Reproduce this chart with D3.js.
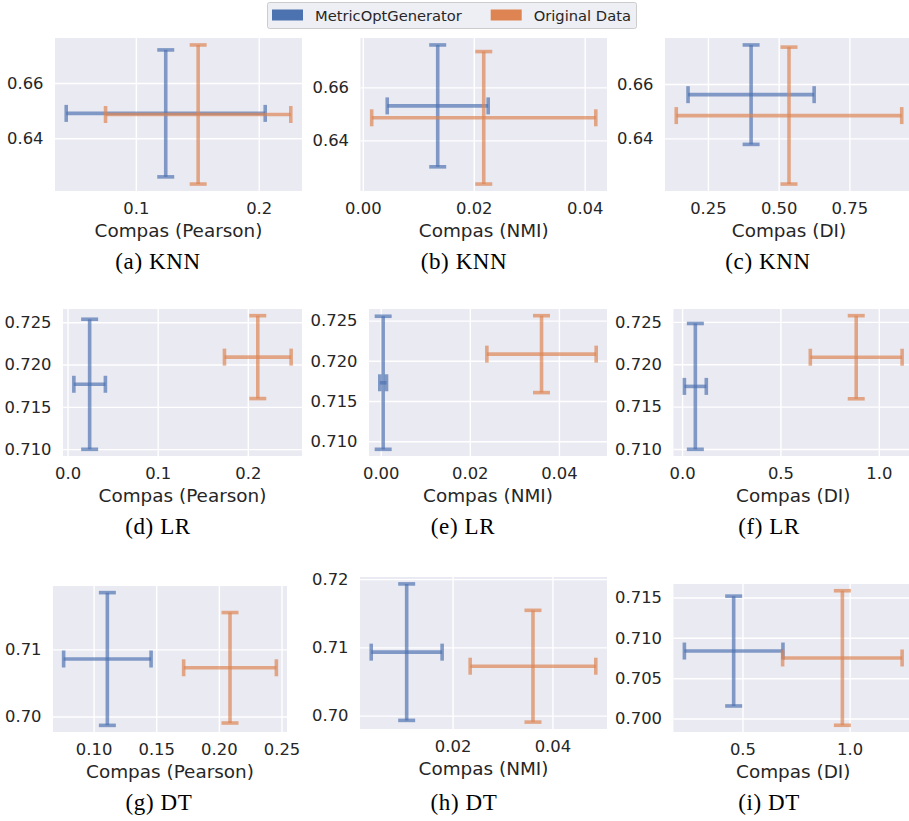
<!DOCTYPE html>
<html>
<head>
<meta charset="utf-8">
<script src="https://cdn.jsdelivr.net/npm/d3@7"></script>
<style>
  body { margin: 0; background: #fff; }
  svg { display: block; font-family: "DejaVu Sans", sans-serif; }
  .tick text { fill: #262626; }
  .caption { font-family: "Liberation Serif", serif; fill: #000; }
</style>
</head>
<body>
<div id="chart"></div>
<script>
const WIDTH = 909;
const HEIGHT = 821;
const AXIS_BG = '#eaeaf2';
const COLORS = ['#4c72b0', '#dd8452'];
const TICK_FONT = 16.4;
const LABEL_FONT = 18.4;
const CAP = 8.5;

const seriesNames = ['MetricOptGenerator', 'Original Data'];
const captions = ['(a) KNN', '(b) KNN', '(c) KNN', '(d) LR', '(e) LR', '(f) LR', '(g) DT', '(h) DT', '(i) DT'];
const xLabels = [
  'Compas (Pearson)', 'Compas (NMI)', 'Compas (DI)',
  'Compas (Pearson)', 'Compas (NMI)', 'Compas (DI)',
  'Compas (Pearson)', 'Compas (NMI)', 'Compas (DI)',
];

// MetricOptGenerator: mean / std of fairness metric (x) and accuracy (y)
const genX    = [0.1243, 0.0135, 0.4026, 0.0245, 0.00055, 0.0675, 0.1110, 0.0108, 0.4589];
const genXErr = [0.0810, 0.0091, 0.2229, 0.0175, 0.00075, 0.0557, 0.0349, 0.0071, 0.2300];
const genY    = [0.6490, 0.6530, 0.6561, 0.71767, 0.71727, 0.71739, 0.70857, 0.70930, 0.70836];
const genYErr = [0.0230, 0.0230, 0.0183, 0.00769, 0.00827, 0.00742, 0.00990, 0.01000, 0.00680];

// Original Data
const origX    = [0.1507, 0.0218, 0.5366, 0.2111, 0.0361, 0.8853, 0.2089, 0.0361, 0.9662];
const origXErr = [0.0754, 0.0202, 0.3985, 0.0370, 0.01227, 0.2333, 0.0370, 0.01258, 0.2788];
const origY    = [0.6486, 0.6485, 0.6484, 0.72088, 0.72083, 0.72083, 0.70726, 0.70724, 0.70750];
const origYErr = [0.0252, 0.0250, 0.0252, 0.00490, 0.00478, 0.00490, 0.00824, 0.00819, 0.00833];

const xTickLabels = [
  ['0.1', '0.2'],
  ['0.00', '0.02', '0.04'],
  ['0.25', '0.50', '0.75'],
  ['0.0', '0.1', '0.2'],
  ['0.00', '0.02', '0.04'],
  ['0.0', '0.5', '1.0'],
  ['0.10', '0.15', '0.20', '0.25'],
  ['0.02', '0.04'],
  ['0.5', '1.0'],
];
const yTickLabels = [
  ['0.64', '0.66'],
  ['0.64', '0.66'],
  ['0.64', '0.66'],
  ['0.710', '0.715', '0.720', '0.725'],
  ['0.710', '0.715', '0.720', '0.725'],
  ['0.710', '0.715', '0.720', '0.725'],
  ['0.70', '0.71'],
  ['0.70', '0.71', '0.72'],
  ['0.700', '0.705', '0.710', '0.715'],
];

// subfigure frames (plot area + caption anchor)
const PANELS = [
  {left: 55,    right: 302, top: 38,  bottom: 191, capX: 158, capY: 269},
  {left: 360.5, right: 607, top: 38,  bottom: 191, capX: 464, capY: 269},
  {left: 665,   right: 913, top: 38,  bottom: 191, capX: 768, capY: 269},
  {left: 63,    right: 302, top: 309, bottom: 456, capX: 158, capY: 534},
  {left: 369,   right: 607, top: 309, bottom: 456, capX: 463, capY: 534},
  {left: 673.5, right: 913, top: 309, bottom: 456, capX: 769, capY: 534},
  {left: 53,    right: 287, top: 586, bottom: 732, capX: 159, capY: 810},
  {left: 360,   right: 607, top: 577, bottom: 729, capX: 464, capY: 810},
  {left: 673.5, right: 913, top: 584, bottom: 732, capX: 769, capY: 810},
];

const svg = d3.select('#chart').append('svg')
  .attr('width', WIDTH)
  .attr('height', HEIGHT);

function paddedDomain(lo, hi) {
  const m = (hi - lo) * 0.05;
  return [lo - m, hi + m];
}

function seriesFor(i) {
  return [
    {cx: genX[i], ex: genXErr[i], cy: genY[i], ey: genYErr[i], color: COLORS[0]},
    {cx: origX[i], ex: origXErr[i], cy: origY[i], ey: origYErr[i], color: COLORS[1]},
  ];
}

function buildPanel(i) {
  const p = PANELS[i];
  const w = p.right - p.left;
  const h = p.bottom - p.top;
  const series = seriesFor(i);

  const xs = paddedDomain(d3.min(series, (s) => s.cx - s.ex), d3.max(series, (s) => s.cx + s.ex));
  const ys = paddedDomain(d3.min(series, (s) => s.cy - s.ey), d3.max(series, (s) => s.cy + s.ey));
  const x = d3.scaleLinear().domain(xs).range([0, w]);
  const y = d3.scaleLinear().domain(ys).range([h, 0]);

  const g = svg.append('g').attr('transform', `translate(${p.left},${p.top})`);

  g.append('rect')
    .attr('width', w)
    .attr('height', h)
    .attr('fill', AXIS_BG);

  const xVals = xTickLabels[i].map(Number);
  const yVals = yTickLabels[i].map(Number);

  // grid
  g.append('g')
    .attr('transform', `translate(0,${h})`)
    .call(d3.axisBottom(x).tickValues(xVals).tickSize(-h).tickFormat(''))
    .call((a) => a.select('.domain').remove())
    .selectAll('line').attr('stroke', '#fff').attr('stroke-width', 1.4);
  g.append('g')
    .call(d3.axisLeft(y).tickValues(yVals).tickSize(-w).tickFormat(''))
    .call((a) => a.select('.domain').remove())
    .selectAll('line').attr('stroke', '#fff').attr('stroke-width', 1.4);

  // tick labels
  g.append('g')
    .attr('transform', `translate(0,${h})`)
    .call(d3.axisBottom(x).tickValues(xVals).tickSize(0).tickPadding(11.6)
      .tickFormat((d, k) => xTickLabels[i][k]))
    .call((a) => a.select('.domain').remove())
    .attr('font-family', null)
    .attr('font-size', TICK_FONT);
  g.append('g')
    .call(d3.axisLeft(y).tickValues(yVals).tickSize(0).tickPadding(11.5)
      .tickFormat((d, k) => yTickLabels[i][k]))
    .call((a) => a.select('.domain').remove())
    .attr('font-family', null)
    .attr('font-size', TICK_FONT);

  // error bars
  series.forEach((s) => {
    const px = x(s.cx), py = y(s.cy);
    const x0 = x(s.cx - s.ex), x1 = x(s.cx + s.ex);
    const y0 = y(s.cy - s.ey), y1 = y(s.cy + s.ey);
    const segs = [
      [x0, py, x1, py],
      [px, y0, px, y1],
      [x0, py - CAP, x0, py + CAP],
      [x1, py - CAP, x1, py + CAP],
      [px - CAP, y0, px + CAP, y0],
      [px - CAP, y1, px + CAP, y1],
    ];
    g.append('g').selectAll('line')
      .data(segs)
      .join('line')
      .attr('x1', (d) => d[0])
      .attr('y1', (d) => d[1])
      .attr('x2', (d) => d[2])
      .attr('y2', (d) => d[3])
      .attr('stroke', s.color)
      .attr('stroke-width', 3.6)
      .attr('stroke-opacity', 0.68);
  });

  // x label
  g.append('text')
    .attr('x', w / 2)
    .attr('y', h + 45.5)
    .attr('text-anchor', 'middle')
    .attr('font-size', LABEL_FONT)
    .attr('fill', '#262626')
    .text(xLabels[i]);

  svg.append('text')
    .attr('class', 'caption')
    .attr('x', p.capX)
    .attr('y', p.capY)
    .attr('text-anchor', 'middle')
    .attr('font-size', 23)
    .attr('letter-spacing', 0.6)
    .text(captions[i]);
}

function buildLegend() {
  const lg = svg.append('g').attr('transform', 'translate(267,2)');
  lg.append('rect')
    .attr('x', 0.5).attr('y', 0.5)
    .attr('width', 369).attr('height', 26)
    .attr('rx', 2)
    .attr('fill', AXIS_BG)
    .attr('fill-opacity', 0.8)
    .attr('stroke', '#cccccc')
    .attr('stroke-width', 1);
  const offsets = [5, 223.7];
  seriesNames.forEach((name, k) => {
    lg.append('rect')
      .attr('x', offsets[k]).attr('y', 7.5)
      .attr('width', 31).attr('height', 11)
      .attr('fill', COLORS[k]);
    lg.append('text')
      .attr('x', offsets[k] + 43)
      .attr('y', 18.5)
      .attr('font-size', 14.7)
      .attr('fill', '#262626')
      .text(name);
  });
}

PANELS.forEach((p, i) => buildPanel(i));
buildLegend();
</script>
</body>
</html>
